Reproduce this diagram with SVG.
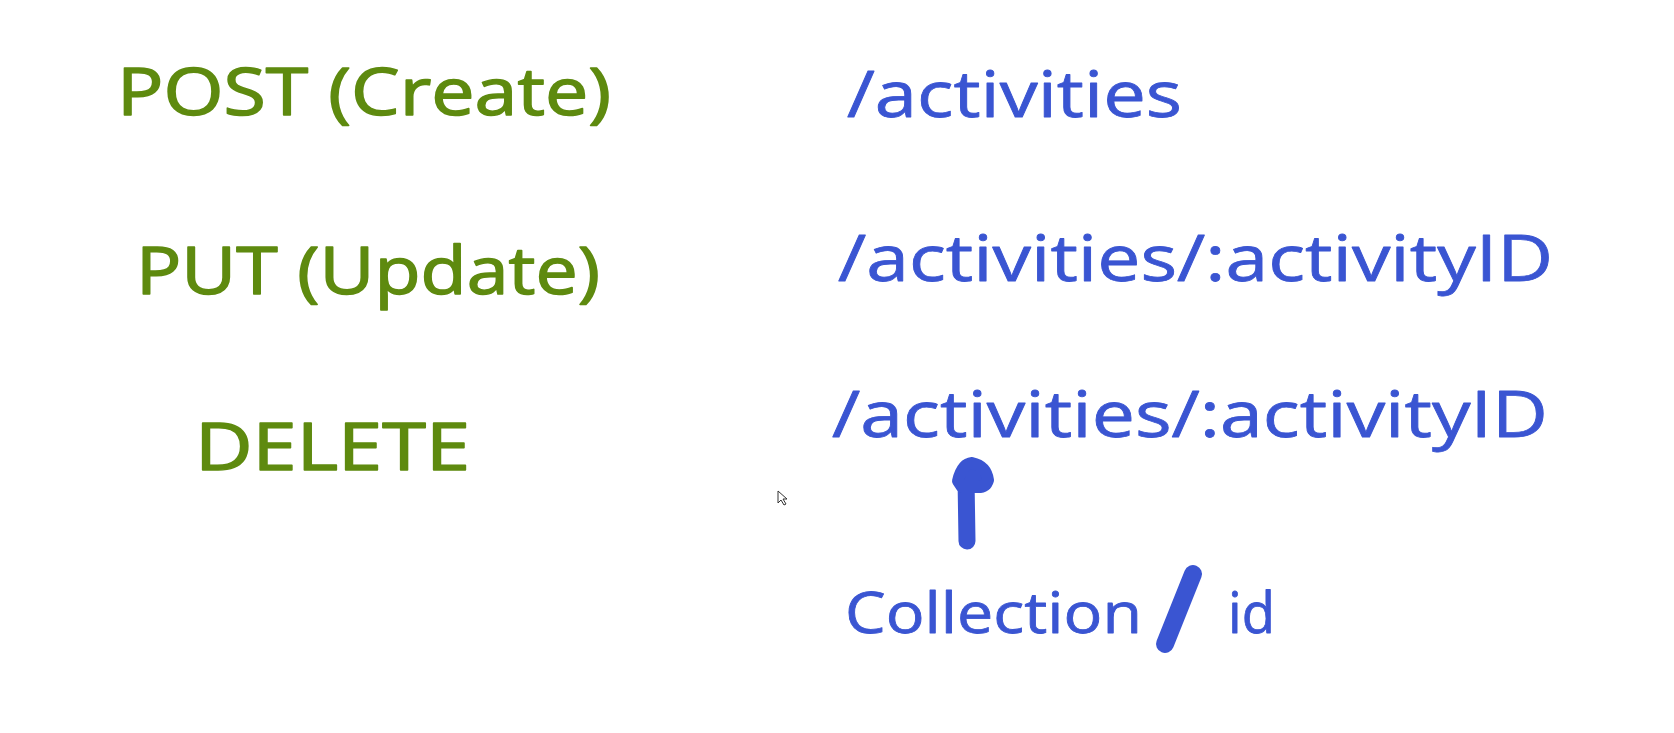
<svg xmlns="http://www.w3.org/2000/svg" width="1674" height="733" viewBox="0 0 1674 733">
<style>
.g{font-family:"Open Sans","Liberation Sans",sans-serif;fill:#5e8a0f;stroke:#5e8a0f;stroke-width:1.5;stroke-linejoin:round}
.b{font-family:"Open Sans","Liberation Sans",sans-serif;fill:#3a55d2;stroke:#3a55d2;stroke-width:0.8;stroke-linejoin:round}
</style>
<rect width="1674" height="733" fill="#ffffff"/>
<g id="post"><text class="g" x="117" y="115" font-size="66" textLength="494" lengthAdjust="spacingAndGlyphs">POST (Create)</text></g>
<g id="put"><text class="g" x="136" y="294" font-size="66" textLength="464" lengthAdjust="spacingAndGlyphs">PUT (Update)</text></g>
<g id="delete"><text class="g" x="195" y="470" font-size="66" textLength="275" lengthAdjust="spacingAndGlyphs">DELETE</text></g>
<g id="route1"><text class="b" x="847" y="117" font-size="64" textLength="335" lengthAdjust="spacingAndGlyphs">/activities</text></g>
<g id="route2"><text class="b" x="838" y="281" font-size="64" textLength="715" lengthAdjust="spacingAndGlyphs">/activities/:activityID</text></g>
<g id="route3"><text class="b" x="832" y="437" font-size="64" textLength="716" lengthAdjust="spacingAndGlyphs">/activities/:activityID</text></g>
<g id="collection-id">
<text class="b" x="845" y="633" font-size="56" textLength="297" lengthAdjust="spacingAndGlyphs">Collection</text>
<text class="b" x="1228" y="633" font-size="56" textLength="47" lengthAdjust="spacingAndGlyphs">id</text>
<line x1="1193" y1="574" x2="1165" y2="644" stroke="#3a55d2" stroke-width="18" stroke-linecap="round"/>
</g>
<g id="connectors">
<line x1="967" y1="541" x2="966" y2="478" stroke="#3a55d2" stroke-width="17" stroke-linecap="round"/>
<path d="M958,481 Q962,464 972,463 Q986,466 988,480 Q986,487 978,487 L962,487 Z" fill="#3a55d2" stroke="#3a55d2" stroke-width="12" stroke-linejoin="round"/>
</g>
<path d="M778,491 L778,503 L781,500 L784,505 L786,504 L783,499 L787,499 Z" fill="#ffffff" stroke="#333333" stroke-width="1"/>
</svg>
